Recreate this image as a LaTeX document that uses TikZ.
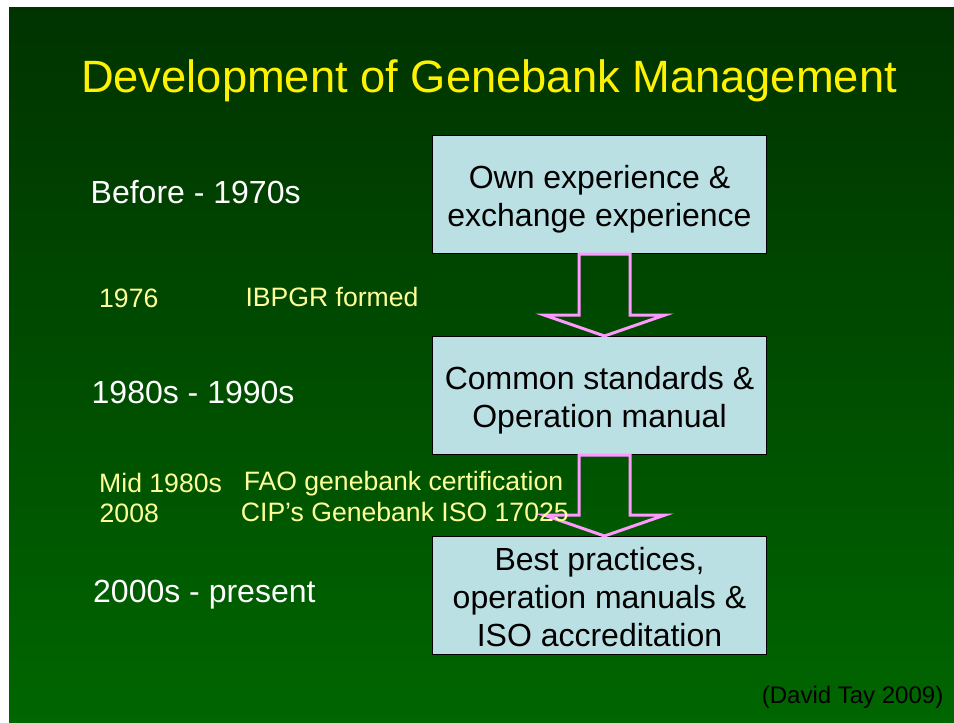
\documentclass[tikz,border=0pt]{standalone}
\usepackage{fontspec}
\setmainfont{Liberation Sans}
\usetikzlibrary{positioning,calc}
\definecolor{bgtop}{RGB}{0,51,0}
\definecolor{bgbottom}{RGB}{0,102,0}
\definecolor{boxblue}{RGB}{187,224,227}
\definecolor{arrowpink}{RGB}{255,153,255}
\definecolor{notecol}{RGB}{255,255,153}
\newcommand{\topstrut}{\rule{0pt}{33pt}}
\newcommand{\botstrut}{\rule[-6.8pt]{0pt}{6.8pt}}
\tikzset{
  stage/.style={draw=black, line width=1pt, fill=boxblue, minimum width=334pt,
    minimum height=118pt, align=center, inner sep=0pt,
    font=\fontsize{32}{38}\selectfont},
  period/.style={anchor=base west, inner sep=0pt, text=white,
    font=\fontsize{32}{38}\selectfont},
  note/.style={anchor=base west, inner sep=0pt, text=notecol,
    font=\fontsize{26.6}{31}\selectfont},
  blockarrow/.style={draw=arrowpink, line width=3pt, line join=miter}
}
\begin{document}
\begin{tikzpicture}[x=1pt,y=-1pt]
    \useasboundingbox (0,0) rectangle (954,723);
    \shade[top color=bgtop, bottom color=bgbottom] (9,7) rectangle (954,723);
    \node[anchor=base, inner sep=0pt, text=yellow, font=\fontsize{45.3}{54}\selectfont] (title) at (489,92) {Development of Genebank Management};
    % stages
    \node[stage] (own) at (599.5,194.5) {\topstrut Own experience \&\\exchange experience\botstrut};
    \node[stage, below=82pt of own] (common) {\topstrut Common standards \&\\Operation manual\botstrut};
    \node[stage, below=81pt of common] (best) {\topstrut Best practices,\\operation manuals \&\\ISO accreditation\botstrut};
    \foreach \a/\b in {own/common, common/best}
      \draw[blockarrow] let \p1=(\a.south), \p2=(\b.north) in
        (\x1-20.5pt,\y1) -- (\x1+30.5pt,\y1) -- (\x1+30.5pt,\y2+21pt) -- (\x1+65.5pt,\y2+21pt)
        -- (\x1+5pt,\y2) -- (\x1-55.5pt,\y2+21pt) -- (\x1-20.5pt,\y2+21pt) -- cycle;
    % periods
    \node[period] (before) at (90.5,203) {Before - 1970s};
    \node[period] (eighties) at (91.5,403) {1980s - 1990s};
    \node[period] (present) at (93,602.5) {2000s - present};
    % events
    \node[note] (y1976) at (99,307) {1976};
    \node[note] (ibpgr) at (245.3,306.5) {IBPGR formed};
    \node[note] (mid80) at (99,492) {Mid 1980s};
    \node[note] (fao) at (243.6,490.5) {FAO genebank certification};
    \node[note] (y2008) at (99.5,522.5) {2008};
    \node[note] (cip) at (240.7,521) {CIP’s Genebank ISO 17025};
    \node[anchor=base east, inner sep=0pt, font=\fontsize{24}{29}\selectfont] (credit) at (943.5,703) {(David Tay 2009)};
\end{tikzpicture}
\end{document}
